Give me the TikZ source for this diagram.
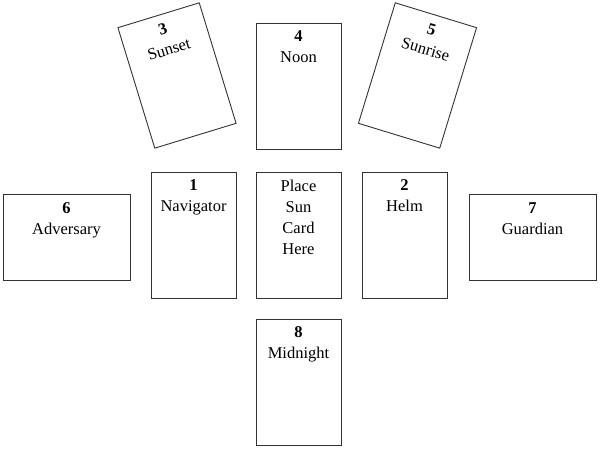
\documentclass[tikz,border=0pt]{standalone}
\usepackage{fontspec}
\setmainfont{Liberation Serif}
\usepackage{xcolor}
\definecolor{cardline}{HTML}{333333}
\begin{document}
\begin{tikzpicture}[x=1pt,y=1pt,
  card/.style={draw=cardline, line width=0.9pt, fill=white, rectangle, inner sep=0pt,
     minimum width=85pt, minimum height=126pt},
  wide/.style={card, minimum width=127pt, minimum height=86pt},
  cardtext/.style={anchor=north, inner sep=0pt, align=center, text=black,
     font=\fontsize{16.5}{21}\selectfont},
  rottext/.style={inner sep=0pt, text=black, font=\fontsize{16.5}{21}\selectfont}]
\useasboundingbox (0,0) rectangle (600,450);
% upright cards
\node[card] (c4) at (298.5,364) {};
\node[card] (sun) at (298.5,215) {};
\node[card] (c1) at (193.5,215) {};
\node[card] (c2) at (404.5,215) {};
\node[card] (c8) at (298.5,68) {};
\node[wide] (c6) at (66.5,213) {};
\node[wide] (c7) at (532.5,213) {};
\node[card, rotate=17] (c3) at (177,374.5) {};
\node[card, rotate=-17] (c5) at (417.5,374.5) {};
% texts
\node[cardtext] (t4) at ([yshift=-8pt]c4.north) {\textbf{4}\\Noon};
\node[cardtext] (tsun) at ([yshift=-8pt]sun.north) {Place\\Sun\\Card\\Here};
\node[cardtext] (t1) at ([yshift=-8pt]c1.north) {\textbf{1}\\Navigator};
\node[cardtext] (t2) at ([yshift=-8pt]c2.north) {\textbf{2}\\Helm};
\node[cardtext] (t8) at ([yshift=-8pt]c8.north) {\textbf{8}\\Midnight};
\node[cardtext] (t6) at ([yshift=-9pt]c6.north) {\textbf{6}\\Adversary};
\node[cardtext] (t7) at ([yshift=-9pt]c7.north) {\textbf{7}\\Guardian};
\path (c3.north) ++(-73:15) node[rottext, rotate=17] (n3) {\textbf{3}};
\path (c3.north) ++(-73:36) node[rottext, rotate=17] (t3) {Sunset};
\path (c5.north) ++(-107:15) node[rottext, rotate=-17] (n5) {\textbf{5}};
\path (c5.north) ++(-107:36) node[rottext, rotate=-17] (t5) {Sunrise};
\end{tikzpicture}
\end{document}
